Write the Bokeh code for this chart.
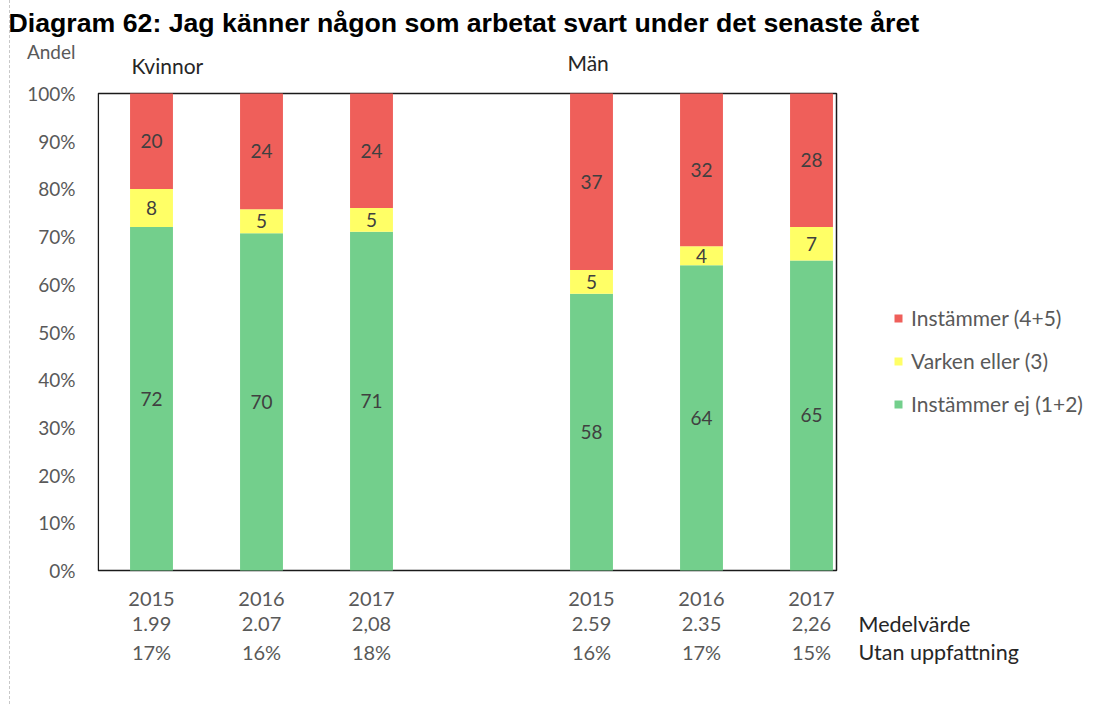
from bokeh.plotting import figure
from bokeh.models import (Range1d, FixedTicker, CustomJSTickFormatter, Legend,
                          LegendItem, ColumnDataSource)
from bokeh.core.properties import value
from bokeh.embed import file_html
from bokeh.resources import INLINE

# ---------------- data ----------------
title = "Diagram 62: Jag känner någon som arbetat svart under det senaste året"
groups = ["Kvinnor", "Män"]
years = ["2015", "2016", "2017", "2015", "2016", "2017"]
group_of_bar = [0, 0, 0, 1, 1, 1]
instammer_ej = [72, 70, 71, 58, 64, 65]
varken_eller = [8, 5, 5, 5, 4, 7]
instammer = [20, 24, 24, 37, 32, 28]
medelvarde = ["1.99", "2.07", "2,08", "2.59", "2.35", "2,26"]
utan_uppfattning = ["17%", "16%", "18%", "16%", "17%", "15%"]
row_labels = ["Medelvärde", "Utan uppfattning"]
series_names = ["Instämmer ej (1+2)", "Varken eller (3)", "Instämmer (4+5)"]
y_ticks = [0, 0.1, 0.2, 0.3, 0.4, 0.5, 0.6, 0.7, 0.8, 0.9, 1.0]
y_axis_title = "Andel"

# ---------------- styles / layout ----------------
colors = ["#73CF8C", "#FFFF66", "#EF5F5A"]
FONT = "Lato"
GREY = "#595959"
DARK = "#262626"
PX_X = 110.0      # pixels per category slot
X0 = 151.0        # page x of first bar
PX_Y = 477.0      # pixels per 100 %
Y0 = 570.0        # page y of 0 %
CANVAS_LEFT = 10  # page x of the canvas (9px margin + 1px border)
FRAME_LEFT = 97   # page x of the plot box
FRAME_TOP = 37    # page y of the frame top (title panel above)
W, H = 1094, 704


def xd(page_x):
    return (page_x - X0) / PX_X


def yd(page_y):
    return (Y0 - page_y) / PX_Y


# bar slots: one empty slot between the two groups
x = [i + g for i, g in enumerate(group_of_bar)]
series = [instammer_ej, varken_eller, instammer]
totals = [sum(s[i] for s in series) for i in range(len(x))]
fr = [[s[i] / totals[i] for i in range(len(x))] for s in series]

src = ColumnDataSource(dict(x=x, ej=fr[0], varken=fr[1], inst=fr[2]))

p = figure(width=W, height=H, output_backend="svg", toolbar_location=None,
           x_range=Range1d(xd(FRAME_LEFT), xd(CANVAS_LEFT + W)),
           y_range=Range1d(yd(H), yd(FRAME_TOP)),
           min_border_left=FRAME_LEFT - CANVAS_LEFT, min_border_right=0,
           min_border_top=FRAME_TOP, min_border_bottom=0)
p.styles = {"border-left": "1px dashed #C8C8C8", "margin-left": "9px"}
p.grid.visible = False
p.xaxis.visible = False
p.outline_line_color = None
p.background_fill_color = "white"
p.border_fill_color = "white"

# chart title
p.title.text = title
p.title.align = "left"
p.title.offset = 8 - FRAME_LEFT
p.title.standoff = 0
p.title.text_font = "Liberation Sans"
p.title.text_font_size = "26.7px"
p.title.text_font_style = "bold"
p.title.text_color = "black"

# y axis: percent ticks plus the "Andel" caption on top
andel_y = yd(51)
ya = p.yaxis[0]
ya.ticker = FixedTicker(ticks=y_ticks + [andel_y])
ya.formatter = CustomJSTickFormatter(
    args=dict(cap=y_axis_title, capy=andel_y),
    code="return Math.abs(tick - capy) < 1e-6 ? cap : Math.round(tick * 100) + '%';")
ya.axis_line_color = None
ya.major_tick_line_color = None
ya.minor_tick_line_color = None
ya.major_tick_out = 0
ya.major_tick_in = 0
ya.major_label_standoff = 22
ya.major_label_text_font = FONT
ya.major_label_text_font_size = "19px"
ya.major_label_text_color = GREY

# plot box
p.quad(left=[xd(FRAME_LEFT + 0.8)], right=[xd(836)], bottom=[0], top=[1],
       fill_color=None, line_color="#1A1A1A", line_width=1.5)

rs = p.vbar_stack(["ej", "varken", "inst"], x="x", width=0.39, color=colors,
                  line_color=None, source=src)

# segment value labels
lx, ly, lt = [], [], []
for i in range(len(x)):
    base = 0.0
    for k, s in enumerate(series):
        h = fr[k][i]
        lx.append(x[i])
        ly.append(base + h / 2)
        lt.append(str(s[i]))
        base += h
p.text(x=lx, y=ly, text=lt, text_align="center", text_baseline="middle",
       text_font=value(FONT), text_font_size="19px", text_color="#404040")

# category rows below the plot
rows = [years, medelvarde, utan_uppfattning]
row_y = [598, 623, 651]
bx, by, bt = [], [], []
for r, vals in enumerate(rows):
    for i in range(len(x)):
        bx.append(x[i])
        by.append(yd(row_y[r]))
        bt.append(vals[i])
p.text(x=bx, y=by, text=bt, text_align="center", text_baseline="middle",
       text_font=value(FONT), text_font_size="20px", text_color=GREY)
p.text(x=[xd(858)] * 2, y=[yd(row_y[1]), yd(row_y[2])], text=row_labels,
       text_align="left", text_baseline="middle", text_font=value(FONT),
       text_font_size="21.5px", text_color=DARK)

# group titles
p.text(x=[xd(131), xd(567)], y=[yd(65), yd(62)], text=groups, text_align="left",
       text_baseline="middle", text_font=value(FONT), text_font_size="21px",
       text_color=DARK)

# legend (red on top)
legend = Legend(items=[LegendItem(label=series_names[k], renderers=[rs[k]]) for k in (2, 1, 0)],
                location=(893 - FRAME_LEFT, H - 416), glyph_width=10, glyph_height=10,
                label_standoff=8, spacing=18, padding=0, margin=0,
                border_line_color=None, background_fill_alpha=0,
                label_text_font=FONT, label_text_font_size="21px",
                label_text_color=GREY, label_height=20)
p.add_layout(legend, "center")

open("out.html", "w").write(file_html(p, INLINE))
